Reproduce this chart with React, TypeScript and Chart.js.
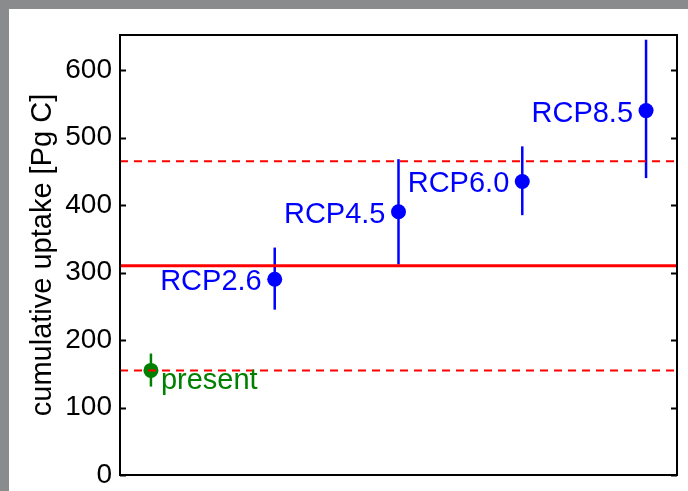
import React, { useEffect, useRef } from "react";
import { Chart, registerables } from "chart.js";

Chart.register(...registerables);

const categories = ["present", "RCP2.6", "RCP4.5", "RCP6.0", "RCP8.5"];
const positions = [1, 2, 3, 4, 5];
const values = [155, 290, 390, 435, 540];
const lows = [131, 245, 312, 385, 440];
const highs = [180, 337, 468, 487, 645];
const colors = ["#008000", "#0000ff", "#0000ff", "#0000ff", "#0000ff"];
const meanLine = 310;
const upperLine = 465;
const lowerLine = 155;
const yTicks = [0, 100, 200, 300, 400, 500, 600];
const xRange = [0.75, 5.25];
const yRange = [0, 652];
const yTitle = "cumulative uptake [Pg C]";

const FONT = "'Liberation Sans', Arial, Helvetica, sans-serif";

const decorPlugin = {
  id: "decor",
  beforeDatasetDraw(chart: any, args: any) {
    if (args.index !== 3) return;
    const { ctx } = chart;
    const xs = chart.scales.x;
    const ys = chart.scales.y;
    ctx.save();
    ctx.lineWidth = 2.5;
    for (let i = 0; i < positions.length; i++) {
      const px = xs.getPixelForValue(positions[i]);
      ctx.strokeStyle = colors[i];
      ctx.beginPath();
      ctx.moveTo(px, ys.getPixelForValue(lows[i]));
      ctx.lineTo(px, ys.getPixelForValue(highs[i]));
      ctx.stroke();
    }
    ctx.restore();
  },
  afterDraw(chart: any) {
    const { ctx, chartArea } = chart;
    const xs = chart.scales.x;
    const ys = chart.scales.y;
    ctx.save();
    ctx.font = `29px ${FONT}`;
    for (let i = 0; i < positions.length; i++) {
      const px = xs.getPixelForValue(positions[i]);
      const py = ys.getPixelForValue(values[i]);
      ctx.fillStyle = colors[i];
      ctx.textBaseline = "alphabetic";
      if (i === 0) {
        ctx.textAlign = "left";
        ctx.fillText(categories[i], px + 10, py + 19);
      } else {
        ctx.textAlign = "right";
        ctx.fillText(categories[i], px - 13, py + 11);
      }
    }
    ctx.strokeStyle = "#000";
    ctx.lineWidth = 2;
    ctx.strokeRect(
      chartArea.left,
      chartArea.top,
      chartArea.right - chartArea.left,
      chartArea.bottom - chartArea.top
    );
    for (const t of yTicks) {
      const py = Math.round(ys.getPixelForValue(t)) + 0.5;
      ctx.beginPath();
      ctx.moveTo(chartArea.left, py);
      ctx.lineTo(chartArea.left + 6, py);
      ctx.moveTo(chartArea.right, py);
      ctx.lineTo(chartArea.right - 6, py);
      ctx.stroke();
    }
    ctx.restore();
  },
};

export default function App() {
  const ref = useRef<HTMLCanvasElement | null>(null);

  useEffect(() => {
    document.body.style.margin = "0";
    if (!ref.current) return;
    const lineData = (v: number) => [
      { x: xRange[0], y: v },
      { x: xRange[1], y: v },
    ];
    const chart = new Chart(ref.current, {
      type: "scatter",
      data: {
        datasets: [
          {
            type: "line",
            data: lineData(meanLine),
            borderColor: "#ff0000",
            borderWidth: 3,
            pointRadius: 0,
          },
          {
            type: "line",
            data: lineData(upperLine),
            borderColor: "#ff0000",
            borderWidth: 2,
            borderDash: [8, 6],
            pointRadius: 0,
          },
          {
            type: "line",
            data: lineData(lowerLine),
            borderColor: "#ff0000",
            borderWidth: 2,
            borderDash: [8, 6],
            pointRadius: 0,
          },
          {
            data: positions.map((x, i) => ({ x, y: values[i] })),
            backgroundColor: colors,
            borderColor: colors,
            pointRadius: 7.5,
            pointBorderWidth: 0,
          },
        ] as any,
      },
      options: {
        animation: false,
        responsive: false,
        events: [],
        layout: { padding: { top: 35, right: 11, bottom: 16, left: 0 } },
        plugins: {
          legend: { display: false },
          tooltip: { enabled: false },
        },
        scales: {
          x: {
            type: "linear",
            min: xRange[0],
            max: xRange[1],
            display: false,
          },
          y: {
            type: "linear",
            min: yRange[0],
            max: yRange[1],
            afterBuildTicks: (scale: any) => {
              scale.ticks = yTicks.map((v) => ({ value: v }));
            },
            afterFit: (scale: any) => {
              scale.width = 120;
              scale.paddingTop = 0;
              scale.paddingBottom = 0;
            },
            grid: { display: false, drawTicks: false },
            border: { display: false },
            ticks: {
              color: "#000",
              padding: 8,
              font: { family: FONT, size: 28, lineHeight: 1 },
            },
            title: {
              display: true,
              text: yTitle,
              color: "#000",
              padding: { top: 26, bottom: 0 },
              font: { family: FONT, size: 29 },
            },
          },
        },
      },
      plugins: [decorPlugin],
    });
    return () => chart.destroy();
  }, []);

  return (
    <div style={{ position: "relative", width: 688, height: 491, background: "#fff", overflow: "hidden" }}>
      <div style={{ position: "absolute", left: 0, top: 0, width: 688, height: 9, background: "#8a8b8d" }} />
      <div style={{ position: "absolute", left: 0, top: 0, width: 9, height: 491, background: "#8a8b8d" }} />
      <canvas ref={ref} width={688} height={491} style={{ position: "absolute", left: 0, top: 0 }} />
    </div>
  );
}
